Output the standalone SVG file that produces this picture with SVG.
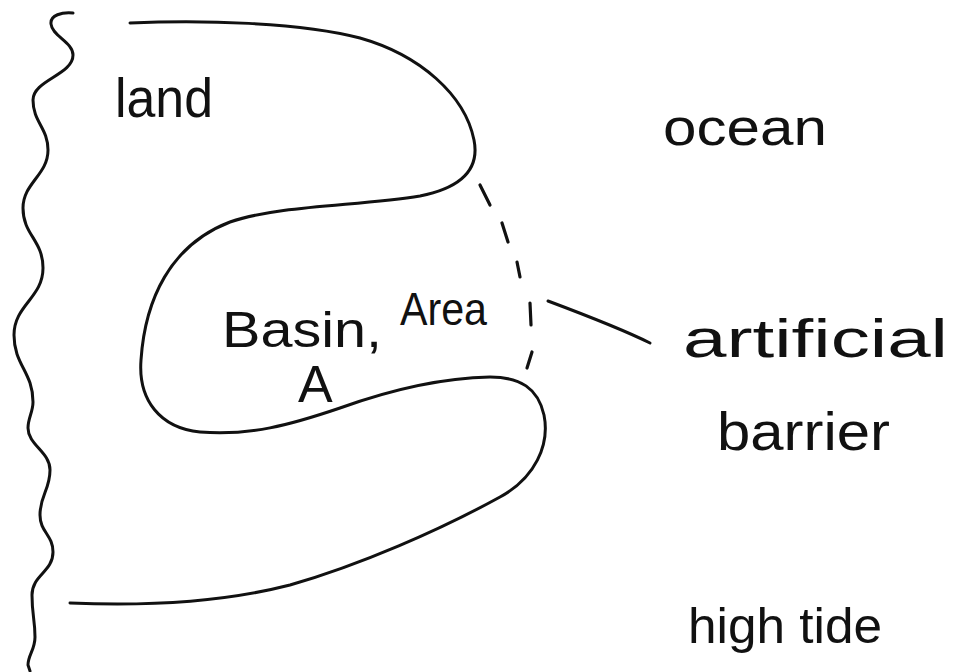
<svg xmlns="http://www.w3.org/2000/svg" width="964" height="672" viewBox="0 0 964 672">
  <style>
    .ink { fill: none; stroke: #111; stroke-width: 3; stroke-linecap: round; stroke-linejoin: round; }
    .dash { fill: none; stroke: #111; stroke-width: 3.2; stroke-linecap: round; }
    .label { font-family: "Liberation Sans", "DejaVu Sans", sans-serif; fill: #111; }
  </style>
  <rect width="964" height="672" fill="#ffffff"/>

  <!-- wavy left edge: cut line of the land -->
  <path id="land-edge" class="ink" d="M73,13 C62,12 50,15 51,24 C52,36 73,42 73,55 C73,75 33,80 33,100 C33,122 48,128 48,150 C48,175 23,183 23,208 C23,235 43,240 43,268 C43,298 14,305 14,335 C14,365 33,372 33,402 C33,412 28,418 28,428 C28,445 50,452 50,470 C50,490 40,495 40,515 C40,532 53,535 53,552 C53,572 32,575 32,595 C32,615 35,620 35,637 C35,650 28,655 28,665 L30,671"/>

  <!-- coastline with the two headlands enclosing the basin -->
  <path id="coastline" class="ink" d="M130,23 C200,20 300,22 360,38 C420,55 465,95 474,140 C480,170 460,188 420,196 C360,206 280,205 230,222 C170,245 145,300 141,360 C138,400 160,428 200,432 C250,436 290,425 340,408 C390,390 440,378 490,377 C520,377 538,388 544,415 C550,445 535,478 500,497 C440,530 360,565 290,585 C220,603 140,606 70,603"/>

  <!-- dashed barrier across the basin mouth -->
  <g id="barrier-line">
    <line class="dash" x1="480" y1="185" x2="490" y2="205"/>
    <line class="dash" x1="502" y1="223" x2="508" y2="242"/>
    <line class="dash" x1="517" y1="262" x2="520" y2="277"/>
    <line class="dash" x1="530" y1="303" x2="531" y2="325"/>
    <line class="dash" x1="532" y1="352" x2="527" y2="368"/>
  </g>

  <g id="connectors">
    <path class="ink" d="M548,301 C580,313 620,328 650,343"/>
  </g>

  <g id="land">
    <text class="label" x="115" y="117" font-size="55" textLength="98" lengthAdjust="spacingAndGlyphs">land</text>
  </g>
  <g id="ocean">
    <text class="label" x="663" y="145" font-size="52" textLength="164" lengthAdjust="spacingAndGlyphs">ocean</text>
  </g>
  <g id="basin">
    <text class="label" font-size="50">
      <tspan x="222" y="347" textLength="160" lengthAdjust="spacingAndGlyphs">Basin,</tspan>
      <tspan x="400" y="325" font-size="46" textLength="87" lengthAdjust="spacingAndGlyphs">Area</tspan>
    </text>
    <text class="label" x="298" y="402" font-size="52">A</text>
  </g>
  <g id="artificial-barrier">
    <text class="label" x="683" y="357" font-size="54" textLength="265" lengthAdjust="spacingAndGlyphs">artificial</text>
    <text class="label" x="717" y="450" font-size="54" textLength="173" lengthAdjust="spacingAndGlyphs">barrier</text>
  </g>
  <g id="high-tide">
    <text class="label" x="688" y="643" font-size="50" textLength="194" lengthAdjust="spacingAndGlyphs">high tide</text>
  </g>
</svg>
